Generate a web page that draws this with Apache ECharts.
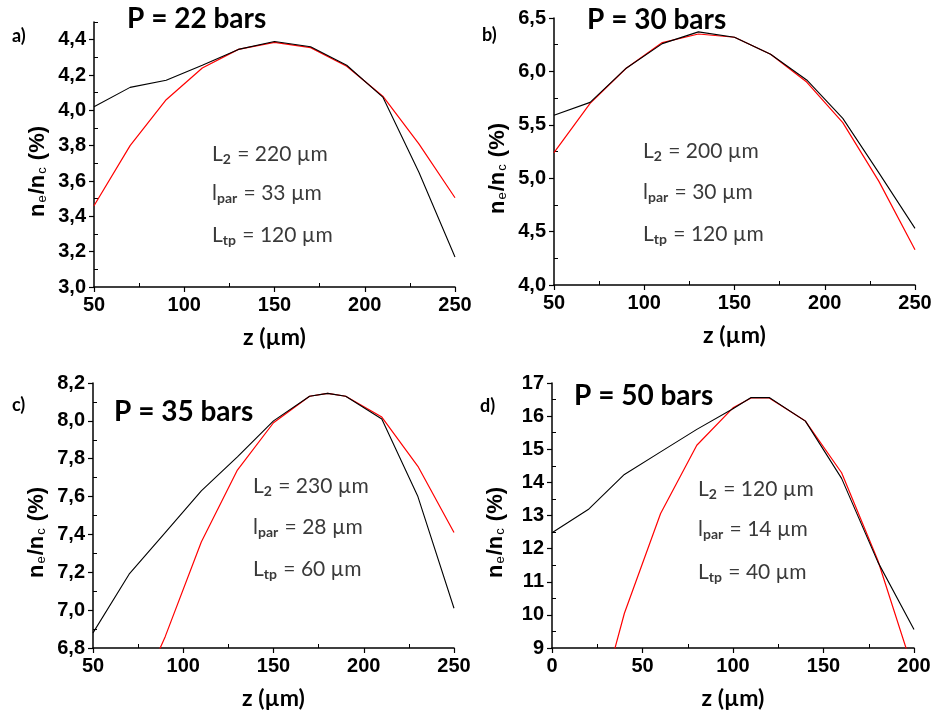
<!DOCTYPE html>
<html><head><meta charset="utf-8">
<script src="https://cdn.jsdelivr.net/npm/echarts@6/dist/echarts.min.js"></script>
<style>html,body{margin:0;padding:0;background:#fff}#c{width:935px;height:720px}</style>
</head><body><div id="c"></div>
<script>
// ---- data (z in µm, ne/nc in %) ----
const zA_black = [50,70,90,110,130,150,170,190,210,230,250];
const vA_black = [4.02,4.13,4.17,4.255,4.345,4.39,4.36,4.255,4.075,3.65,3.17];
const zA_red   = [50,70,90,110,130,150,170,190,210,230,250];
const vA_red   = [3.46,3.80,4.06,4.24,4.345,4.385,4.355,4.25,4.08,3.81,3.505];

const zB_black = [50,70,90,110,130,150,170,190,210,230,250];
const vB_black = [5.59,5.71,6.03,6.26,6.37,6.32,6.16,5.92,5.56,5.05,4.53];
const zB_red   = [50,70,90,110,130,150,170,190,210,230,250];
const vB_red   = [5.24,5.70,6.03,6.27,6.35,6.32,6.16,5.90,5.52,4.97,4.33];

const zC_black = [50,70,90,110,130,150,170,180,190,210,230,250];
const vC_black = [6.88,7.19,7.41,7.63,7.81,8.00,8.13,8.145,8.13,8.01,7.60,7.01];
const zC_red   = [70,90,110,130,150,170,180,190,210,230,250];
const vC_red   = [6.43,6.86,7.36,7.74,7.99,8.13,8.145,8.13,8.02,7.76,7.41];

const zD_black = [0,20,40,60,80,100,110,120,140,160,180,200];
const vD_black = [12.48,13.18,14.24,14.92,15.60,16.22,16.56,16.56,15.85,14.12,11.60,9.56];
const zD_red   = [20,40,60,80,100,110,120,140,160,180,200];
const vD_red   = [6.0,10.05,13.06,15.12,16.25,16.55,16.55,15.85,14.29,11.65,8.25];

const panelLetters = ['a)','b)','c)','d)'];
const pressures = ['P = 22 bars','P = 30 bars','P = 35 bars','P = 50 bars'];
const L2 = ['220','200','230','120'];
const lpar = ['33','30','28','14'];
const Ltp = ['120','120','60','40'];

// axis ranges / ticks
const xRanges = [[50,250,50,25],[50,250,50,25],[50,250,50,25],[0,200,50,25]];
const yRanges = [[3.0,4.5,0.2,0.1],[4.0,6.5,0.5,0.25],[6.8,8.2,0.2,0.1],[9,17,1,0.5]];
const yDecimals = [1,1,1,0];

// ---- layout ----
const grids = [
  {left:94, top:22, width:361, height:265},
  {left:554, top:18, width:361, height:267},
  {left:93, top:383, width:361, height:265},
  {left:552, top:383, width:362, height:265}
];
const titlePos = [[127,19],[587,20],[114,412],[574,396]];
const letterPos = [[12,36],[482,35],[12,405],[480,406]];
const annoPos = [[212,[155,194,236]],[643,[152,193,235]],[253,[487,528,570]],[698,[490,530,573]]];

function pairs(z, v){ return z.map((x,i)=>[x, v[i]]); }
function steps(min, max, step){ const out=[]; const n=Math.round((max-min)/step); for(let i=0;i<=n;i++) out.push(+(min+i*step).toFixed(4)); return out; }

const tickFont = {fontFamily:'Liberation Sans', fontWeight:'bold', fontSize:20, color:'#000'};
const xAxes=[], yAxes=[], series=[], graphics=[];

for (let i=0;i<4;i++){
  const [x0,x1,xi,xm] = xRanges[i];
  const [y0,y1,yi,ym] = yRanges[i];
  const dec = yDecimals[i];
  xAxes.push({
    type:'value', gridIndex:i, min:x0, max:x1, interval:xi, position:'bottom',
    axisLine:{show:true, onZero:false, lineStyle:{color:'#000', width:1.5}},
    axisTick:{show:true, inside:false, length:5, lineStyle:{color:'#000', width:1.2}},
    axisLabel:Object.assign({margin:8}, tickFont),
    splitLine:{show:false},
    name:'z (µm)', nameLocation:'middle', nameGap:39,
    nameTextStyle:{fontFamily:'Lato', fontWeight:'bold', fontSize:23, color:'#000'}
  });
  xAxes.push({
    type:'value', gridIndex:i, min:x0, max:x1, position:'bottom',
    axisLine:{show:false, onZero:false}, axisLabel:{show:false}, splitLine:{show:false},
    axisTick:{show:true, inside:true, length:4, customValues: steps(x0,x1,xm).filter(v=>Math.abs((v-x0)/xi - Math.round((v-x0)/xi))>1e-6), lineStyle:{color:'#000', width:1}}
  });
  yAxes.push({
    type:'value', gridIndex:i, min:y0, max:y1, interval:yi, position:'left',
    axisLine:{show:true, onZero:false, lineStyle:{color:'#000', width:1.5}},
    axisTick:{show:true, inside:false, length:5, lineStyle:{color:'#000', width:1.2}},
    axisLabel:Object.assign({margin:8, showMaxLabel: i===0 ? false : true,
      formatter: v => v.toFixed(dec).replace('.', ',')}, tickFont),
    splitLine:{show:false},
    name:'{n|n}{s|e}{n|/n}{s|c}{n| (%)}', nameLocation:'middle', nameGap:45,
    nameTextStyle:{padding:[0,34,0,0], rich:{
      n:{fontFamily:'Liberation Sans', fontWeight:'bold', fontSize:22, color:'#000', verticalAlign:'top', lineHeight:22},
      s:{fontFamily:'Liberation Sans', fontSize:13, color:'#000', verticalAlign:'bottom', lineHeight:14, padding:[17,1,0,1]}
    }}
  });
  yAxes.push({
    type:'value', gridIndex:i, min:y0, max:y1, position:'left',
    axisLine:{show:false, onZero:false}, axisLabel:{show:false}, splitLine:{show:false},
    axisTick:{show:true, inside:true, length:4, customValues: steps(y0,y1,ym).filter(v=>Math.abs((v-y0)/yi - Math.round((v-y0)/yi))>1e-6), lineStyle:{color:'#000', width:1}}
  });
}

const datasets = [
  [pairs(zA_red,vA_red), pairs(zA_black,vA_black)],
  [pairs(zB_red,vB_red), pairs(zB_black,vB_black)],
  [pairs(zC_red,vC_red), pairs(zC_black,vC_black)],
  [pairs(zD_red,vD_red), pairs(zD_black,vD_black)]
];
for (let i=0;i<4;i++){
  series.push({type:'line', xAxisIndex:2*i, yAxisIndex:2*i, data:datasets[i][0], symbol:'none', clip:true,
    lineStyle:{color:'#ff0000', width:1.2}, z:2});
  series.push({type:'line', xAxisIndex:2*i, yAxisIndex:2*i, data:datasets[i][1], symbol:'none', clip:true,
    lineStyle:{color:'#000000', width:1.1}, z:3});

  graphics.push({type:'text', x:titlePos[i][0], y:titlePos[i][1], style:{
    text:pressures[i], fontFamily:'Lato', fontWeight:'bold', fontSize:28, fill:'#000', verticalAlign:'middle'}});
  graphics.push({type:'text', x:letterPos[i][0], y:letterPos[i][1], style:{
    text:panelLetters[i], fontFamily:'Lato', fontWeight:'bold', fontSize:18, fill:'#000', verticalAlign:'middle'}});
  const rich = {
    t:{fontFamily:'Lato', fontSize:21, fill:'#3a3a3a', verticalAlign:'top', lineHeight:22},
    s:{fontFamily:'Lato', fontWeight:'bold', fontSize:14, fill:'#3a3a3a', verticalAlign:'bottom', lineHeight:14, padding:[12,1,0,0]}
  };
  const lines = [
    '{t|L}{s|2}{t| = ' + L2[i] + ' µm}',
    '{t|l}{s|par}{t| = ' + lpar[i] + ' µm}',
    '{t|L}{s|tp}{t| = ' + Ltp[i] + ' µm}'
  ];
  lines.forEach((txt,k)=>{
    graphics.push({type:'text', x:annoPos[i][0], y:annoPos[i][1][k], style:{
      text:txt, rich:rich, verticalAlign:'middle'}});
  });
}

const chart = echarts.init(document.getElementById('c'), null, {renderer:'canvas'});
chart.setOption({
  animation:false,
  backgroundColor:'#fff',
  grid:grids,
  xAxis:xAxes,
  yAxis:yAxes,
  series:series,
  graphic:graphics
});
</script></body></html>
